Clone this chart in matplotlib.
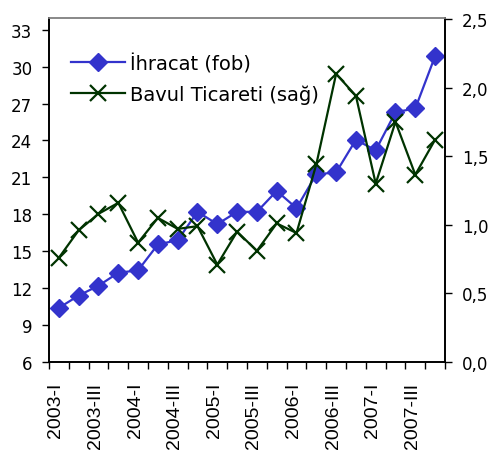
import matplotlib
matplotlib.use("Agg")
import matplotlib.pyplot as plt
import matplotlib.transforms as mtransforms
import numpy as np

quarters = ["2003-I", "2003-II", "2003-III", "2003-IV",
            "2004-I", "2004-II", "2004-III", "2004-IV",
            "2005-I", "2005-II", "2005-III", "2005-IV",
            "2006-I", "2006-II", "2006-III", "2006-IV",
            "2007-I", "2007-II", "2007-III", "2007-IV"]
ihracat = [10.4, 11.4, 12.2, 13.25, 13.45, 15.55, 15.9, 18.2, 17.2, 18.2,
           18.2, 19.9, 18.5, 21.25, 21.4, 24.05, 23.2, 26.3, 26.6, 30.85]
bavul = [0.76, 0.96, 1.08, 1.16, 0.87, 1.05, 0.97, 0.99, 0.71, 0.95,
         0.81, 1.01, 0.94, 1.44, 2.10, 1.94, 1.30, 1.75, 1.365, 1.62]
left_ticks = [6, 9, 12, 15, 18, 21, 24, 27, 30, 33]
right_ticks = [0.0, 0.5, 1.0, 1.5, 2.0, 2.5]

blue = "#3333cc"
green = "#003300"

fig = plt.figure(figsize=(4.89, 4.52), dpi=100)
ax = fig.add_axes([49/489, 1-363/452, (445-49)/489, (363-19)/452])
ax2 = ax.twinx()

x = np.arange(len(quarters))
l1, = ax.plot(x, ihracat, color=blue, lw=1.6, marker="D", ms=9,
              mec=blue, mfc=blue, label="İhracat (fob)")
l2, = ax2.plot(x, bavul, color=green, lw=1.6, marker="x", ms=11,
               mew=1.6, label="Bavul Ticareti (sağ)")

ax.set_xlim(-0.5, len(quarters) - 0.5)
ax.set_ylim(6, 33.95)
ax2.set_ylim(0, 2.507)

ax.set_yticks(left_ticks)
ax.set_yticklabels([str(v) for v in left_ticks])
ax2.set_yticks(right_ticks)
ax2.set_yticklabels([f"{v:.1f}".replace(".", ",") for v in right_ticks])

ax.set_xticks(np.arange(-0.5, len(quarters), 1.0))
ax.set_xticklabels([])
ax.set_xticks(x[::2], minor=True)
ax.set_xticklabels(quarters[::2], minor=True, rotation=90,
                   fontfamily="Liberation Sans", fontsize=14)
ax.tick_params(axis="x", which="major", length=5, width=1, direction="out")
ax.tick_params(axis="x", which="minor", length=0, pad=14)
off = mtransforms.ScaledTranslation(-3/100, 0, fig.dpi_scale_trans)
for lab in ax.get_xticklabels(minor=True):
    lab.set_transform(lab.get_transform() + off)

ax.tick_params(axis="y", length=5, width=1, labelsize=12, pad=7)
ax2.tick_params(axis="y", length=5, width=1, labelsize=12, pad=7)

for a in (ax, ax2):
    for s in ("left", "right", "bottom"):
        a.spines[s].set_color("black")
        a.spines[s].set_linewidth(1.2)
    a.spines["top"].set_color("#888888")
    a.spines["top"].set_linewidth(1.2)

ax2.legend(handles=[l1, l2], loc="upper left", frameon=False,
           bbox_to_anchor=(0.055, 0.898), borderaxespad=0, borderpad=0,
           fontsize=14, handlelength=2.8, handletextpad=0.25,
           labelspacing=0.6)

fig.savefig("out.png", dpi=100)
